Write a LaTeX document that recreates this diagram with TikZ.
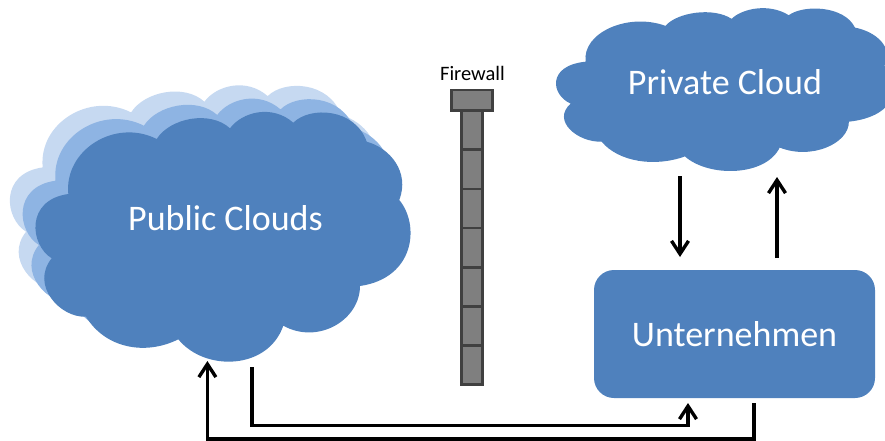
\documentclass[tikz,border=0pt]{standalone}
\usepackage{fontspec}
\setmainfont{Carlito}
\usetikzlibrary{arrows.meta}
\definecolor{cloudfront}{HTML}{4F81BD}
\definecolor{cloudmid}{HTML}{8EB4E3}
\definecolor{cloudback}{HTML}{C6D9F1}
\definecolor{fwfill}{HTML}{7F7F7F}
\definecolor{fwline}{HTML}{404040}
\newcommand{\cloudoutline}{
  (68.3,194) .. controls (64,150) and (115,118) .. (156.7,139)
  .. controls (170,118) and (210,110) .. (230,128.3)
  .. controls (242,112) and (272,104) .. (293.3,122.7)
  .. controls (310,106) and (355,108) .. (366.7,141.7)
  .. controls (390,148) and (410,172) .. (399.3,200)
  .. controls (420,225) and (415,278) .. (360,286)
  .. controls (360,320) and (318,345) .. (283.3,325.7)
  .. controls (268,370) and (205,372) .. (178.3,339.3)
  .. controls (145,356) and (105,348) .. (86,316.7)
  .. controls (60,318) and (30,285) .. (51.7,258.3)
  .. controls (30,245) and (25,200) .. (68.3,194) -- cycle}
\tikzset{
  lbl/.style={text=white,font=\fontsize{36}{40}\selectfont,inner sep=0pt},
  conn/.style={line width=3.4pt,draw=black,-{Straight Barb[length=13pt,width=17pt,line width=3.4pt]},line join=miter},
  fw/.style={fill=fwfill,draw=fwline,line width=2.7pt},
  fwsep/.style={draw=fwline,line width=2.7pt}
}
\begin{document}
\begin{tikzpicture}[x=1pt,y=-1pt]
\useasboundingbox (0,0) rectangle (885,441);
\clip (0,0) rectangle (885,441);
% public clouds
\begin{scope}[shift={(-25.6,-26.6)}]\fill[cloudback] \cloudoutline;\end{scope}
\begin{scope}[shift={(-12.8,-13.3)}]\fill[cloudmid] \cloudoutline;\end{scope}
\fill[cloudfront] \cloudoutline;
\node[lbl] (public) at (225.5,218) {Public Clouds};
% private cloud
\begin{scope}[shift={(524,-64.8)}]
  \begin{scope}[x=.9025pt,y=-.652pt]\fill[cloudfront] \cloudoutline;\end{scope}
\end{scope}
\node[lbl] (private) at (725,82) {Private Cloud};
% enterprise
\node[lbl,fill=cloudfront,rounded corners=20pt,minimum width=281pt,minimum height=128pt] (firm) at (734.5,334) {Unternehmen};
% firewall
\draw[fw] (461.7,110.7) rectangle (482.7,384.3);
\foreach \yy in {149.8,189,228,267.3,306.5,345.5}{\draw[fwsep] (461.7,\yy) -- (482.7,\yy);}
\draw[fw] (451.7,90) rectangle (492.7,110.7);
\node[inner sep=0pt,font=\fontsize{20.5}{24}\selectfont] (fwlabel) at (472.5,73) {Firewall};
% connectors
\coordinate (a1) at (680,176); \coordinate (a2) at (680,257);
\coordinate (b1) at (777,258); \coordinate (b2) at (777,177);
\coordinate (c1) at (252,367); \coordinate (c2) at (688,403);
\coordinate (cb) at (252,425.7);
\coordinate (d1) at (754,403); \coordinate (d2) at (207.4,361);
\coordinate (db) at (754,439);
\draw[conn] (a1) -- (a2);
\draw[conn] (b1) -- (b2);
\draw[conn] (c1) -- (cb) -| (c2);
\draw[conn] (d1) -- (db) -| (d2);
\end{tikzpicture}
\end{document}
